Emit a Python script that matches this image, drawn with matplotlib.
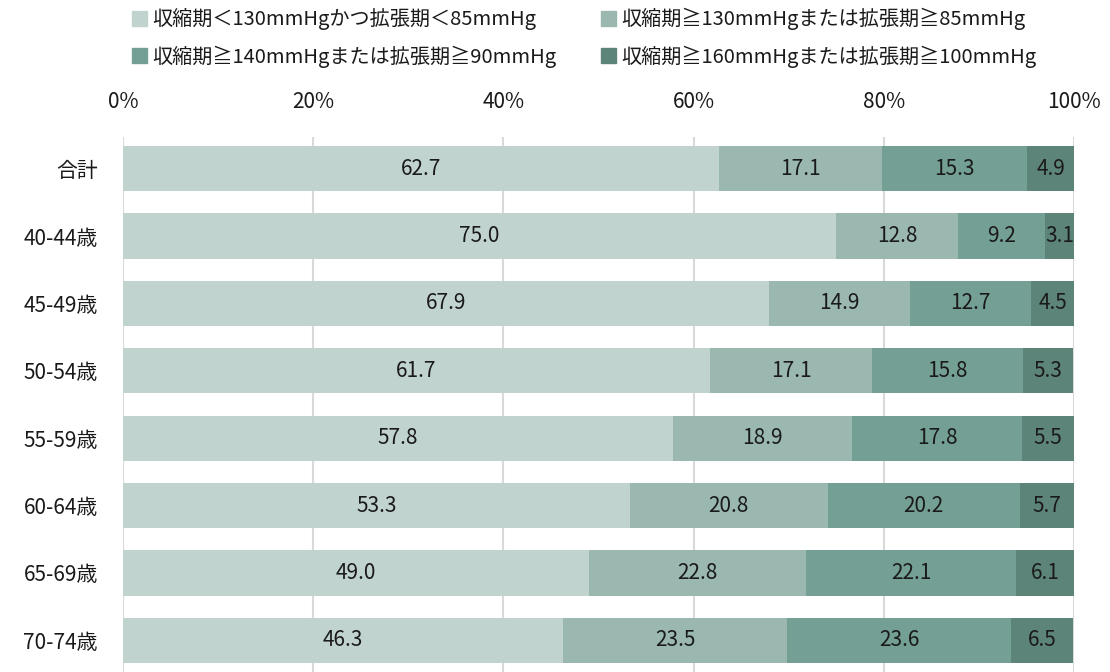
import matplotlib.pyplot as plt
from matplotlib.patches import Patch
import numpy as np

plt.rcParams['font.family'] = ['Noto Sans CJK JP', 'DejaVu Sans']

groups = ['合計', '40-44歳', '45-49歳', '50-54歳', '55-59歳', '60-64歳', '65-69歳', '70-74歳']
series_names = ['収縮期＜130mmHgかつ拡張期＜85mmHg',
                '収縮期≧130mmHgまたは拡張期≧85mmHg',
                '収縮期≧140mmHgまたは拡張期≧90mmHg',
                '収縮期≧160mmHgまたは拡張期≧100mmHg']
normal = [62.7, 75.0, 67.9, 61.7, 57.8, 53.3, 49.0, 46.3]
high_normal = [17.1, 12.8, 14.9, 17.1, 18.9, 20.8, 22.8, 23.5]
grade1 = [15.3, 9.2, 12.7, 15.8, 17.8, 20.2, 22.1, 23.6]
grade2 = [4.9, 3.1, 4.5, 5.3, 5.5, 5.7, 6.1, 6.5]
colors = ['#c1d3cf', '#9ab8b0', '#739f94', '#5d8478']

fig = plt.figure(figsize=(11.1, 6.72), dpi=100)
ax = fig.add_axes([123 / 1110, 0, 951 / 1110, 535 / 672])

y = np.arange(len(groups))
left = np.zeros(len(groups))
for vals, c in zip([normal, high_normal, grade1, grade2], colors):
    vals = np.array(vals)
    ax.barh(y, vals, left=left, height=0.67, color=c, zorder=2)
    for yi, l, v in zip(y, left, vals):
        ax.text(l + v / 2, yi, f'{v:.1f}', ha='center', va='center',
                fontsize=15, color='#1a1a1a', zorder=3)
    left += vals

ax.set_xlim(0, 100)
ax.set_ylim(7.47, -0.47)
ax.set_xticks(np.arange(0, 101, 20))
ax.set_xticklabels([f'{v}%' for v in range(0, 101, 20)])
ax.xaxis.tick_top()
ax.set_yticks(y)
ax.set_yticklabels(groups)
ax.tick_params(length=0, labelsize=15, colors='#1a1a1a')
ax.tick_params(axis='x', pad=17)
ax.tick_params(axis='y', pad=18)
ax.grid(axis='x', color='#d9d9d9', linewidth=1.5, zorder=0)
for s in ax.spines.values():
    s.set_visible(False)

handles = [Patch(color=c) for c in colors]
order = [0, 2, 1, 3]
fig.legend([handles[i] for i in order], [series_names[i] for i in order],
           ncol=2, loc='upper left', bbox_to_anchor=(114 / 1110, 1.015),
           frameon=False, fontsize=14.5, handlelength=0.75, handleheight=0.75,
           handletextpad=0.25, columnspacing=2.2, labelspacing=0.75,
           labelcolor='#1a1a1a')

fig.savefig('out.png', dpi=100)
